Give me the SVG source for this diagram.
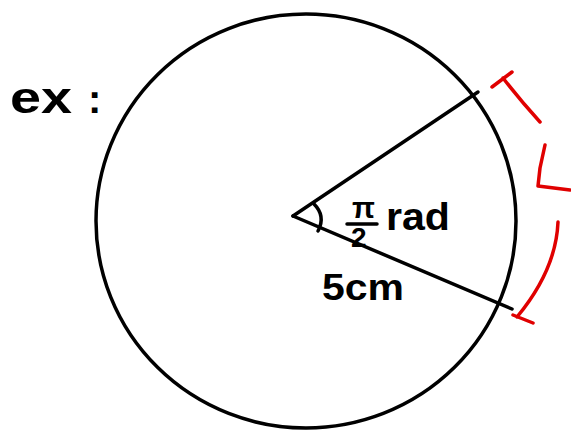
<svg xmlns="http://www.w3.org/2000/svg" width="571" height="430" viewBox="0 0 571 430">
<style>
.k{fill:none;stroke:#000;stroke-width:3.5;stroke-linecap:round;stroke-linejoin:round}
.r{fill:none;stroke:#e00000;stroke-width:3.5;stroke-linecap:round;stroke-linejoin:round}
.t{font-family:"Liberation Sans",sans-serif;fill:#000;font-weight:bold}
</style>
<rect width="571" height="430" fill="#fff"/>
<g id="circle"><ellipse class="k" cx="306" cy="221" rx="210" ry="207"/></g>
<g id="connectors">
<path class="k" d="M293,216 L478,92"/>
<path class="k" d="M293,216 L512,309"/>
<path class="k" d="M314,204 Q326,216 318,231"/>
</g>
<g id="labels">
<text class="t" x="10" y="113" font-size="44" textLength="62" lengthAdjust="spacingAndGlyphs">ex</text>
<text class="t" x="88" y="113" font-size="40">:</text>
<text class="t" x="352" y="218" font-size="30">π</text>
<path class="k" d="M347,224 L377,224"/>
<text class="t" x="351" y="247" font-size="28">2</text>
<text class="t" x="386" y="230" font-size="38" textLength="64" lengthAdjust="spacingAndGlyphs">rad</text>
<text class="t" x="322" y="300" font-size="36" textLength="82" lengthAdjust="spacingAndGlyphs">5cm</text>
</g>
<g id="arc-length">
<path class="r" d="M492,87 L512,72 M503,78 Q520,100 540,122"/>
<path class="r" d="M545,145 L540,168 L538,186 L570,190"/>
<path class="r" d="M558,222 Q556,270 517,317 M513,315 L533,323"/>
</g>
</svg>
